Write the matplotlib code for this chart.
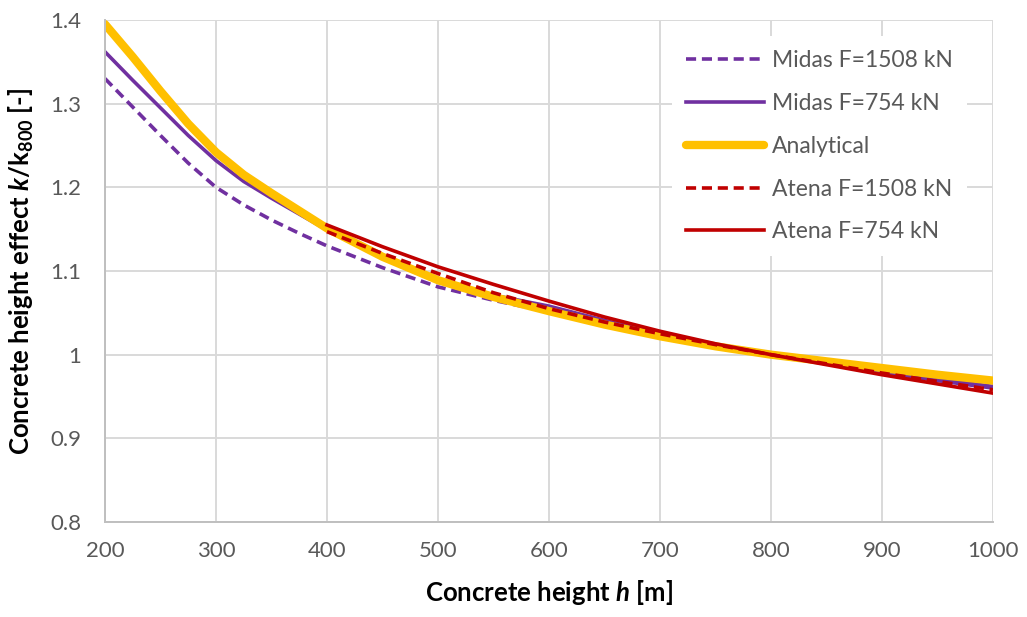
import numpy as np
import matplotlib
matplotlib.use("Agg")
import matplotlib.pyplot as plt
from matplotlib.ticker import FuncFormatter

# values
h_full = [200, 225, 250, 275, 300, 325, 350, 375, 400, 450, 500, 550,
          600, 650, 700, 750, 800, 850, 900, 950, 1000]
midas_1508 = [1.330, 1.296, 1.262, 1.229, 1.200, 1.179, 1.161, 1.145, 1.130,
              1.104, 1.081, 1.065, 1.051, 1.036, 1.023, 1.011, 1.000, 0.990,
              0.979, 0.969, 0.960]
midas_754 = [1.362, 1.328, 1.295, 1.262, 1.232, 1.207, 1.187, 1.168, 1.149,
             1.116, 1.089, 1.071, 1.058, 1.041, 1.025, 1.012, 1.000, 0.990,
             0.980, 0.971, 0.962]
analytical = [1.395, 1.356, 1.315, 1.276, 1.242, 1.215, 1.193, 1.172, 1.151,
              1.117, 1.089, 1.069, 1.052, 1.036, 1.022, 1.010, 1.000, 0.992,
              0.984, 0.976, 0.969]
h_atena = [400, 450, 500, 550, 600, 650, 700, 750, 800, 850, 900, 950, 1000]
atena_1508 = [1.147, 1.121, 1.097, 1.074, 1.055, 1.039, 1.025, 1.012, 1.000,
              0.989, 0.978, 0.968, 0.958]
atena_754 = [1.155, 1.129, 1.105, 1.084, 1.064, 1.045, 1.028, 1.013, 1.000,
             0.988, 0.976, 0.965, 0.954]

x_ticks = [200, 300, 400, 500, 600, 700, 800, 900, 1000]
y_ticks = [0.8, 0.9, 1.0, 1.1, 1.2, 1.3, 1.4]

purple = "#7030A0"
yellow = "#FFC000"
red = "#C00000"
grey_txt = "#595959"
grid_col = "#D9D9D9"

plt.rcParams['font.family'] = ['Lato', 'DejaVu Sans']
plt.rcParams['mathtext.fontset'] = 'custom'
plt.rcParams['mathtext.rm'] = 'Lato:bold'
plt.rcParams['mathtext.bf'] = 'Lato:bold'
plt.rcParams['mathtext.it'] = 'Lato:bold:italic'

fig = plt.figure(figsize=(10.27, 6.17), dpi=100)
ax = fig.add_axes([0.1022, 0.154, 0.8647, 0.8136])

dash = (2.8, 1.6)
ax.plot(h_full, midas_1508, color=purple, lw=2.6, dashes=dash,
        label="Midas F=1508 kN")
ax.plot(h_full, midas_754, color=purple, lw=2.6, label="Midas F=754 kN")
ax.plot(h_full, analytical, color=yellow, lw=6.0, solid_capstyle='round',
        solid_joinstyle='round', label="Analytical")
ax.plot(h_atena, atena_1508, color=red, lw=2.6, dashes=dash,
        label="Atena F=1508 kN")
ax.plot(h_atena, atena_754, color=red, lw=2.6, label="Atena F=754 kN")

ax.set_xlim(200, 1000)
ax.set_ylim(0.8, 1.4)
ax.set_xticks(x_ticks)
ax.set_yticks(y_ticks)
ax.yaxis.set_major_formatter(FuncFormatter(lambda v, p: "{:g}".format(round(v, 2))))
ax.grid(True, color=grid_col, lw=1.4)
ax.set_axisbelow(True)
for s in ["top", "right"]:
    ax.spines[s].set_visible(False)
for s in ["left", "bottom"]:
    ax.spines[s].set_color("#BFBFBF")
    ax.spines[s].set_linewidth(1.4)

ax.tick_params(axis='both', length=0, labelsize=16, labelcolor=grey_txt)
ax.tick_params(axis='y', pad=17)
ax.tick_params(axis='x', pad=14)

ax.set_xlabel("Concrete height $h$ [m]", fontsize=18.5, fontweight='bold',
              labelpad=12)
ax.set_ylabel("Concrete height effect $k$/k$_{800}$ [-]", fontsize=18.5,
              fontweight='bold', labelpad=10)

leg = ax.legend(loc='upper left', bbox_to_anchor=(0.626, 0.99), frameon=True,
                fontsize=16.5, handlelength=3.4, handletextpad=0.35,
                labelspacing=0.95, borderpad=0.6, fancybox=False)
leg.get_frame().set_facecolor('white')
leg.get_frame().set_edgecolor('none')
leg.get_frame().set_alpha(1)
for t in leg.get_texts():
    t.set_color(grey_txt)

fig.savefig("out.png", dpi=100)
